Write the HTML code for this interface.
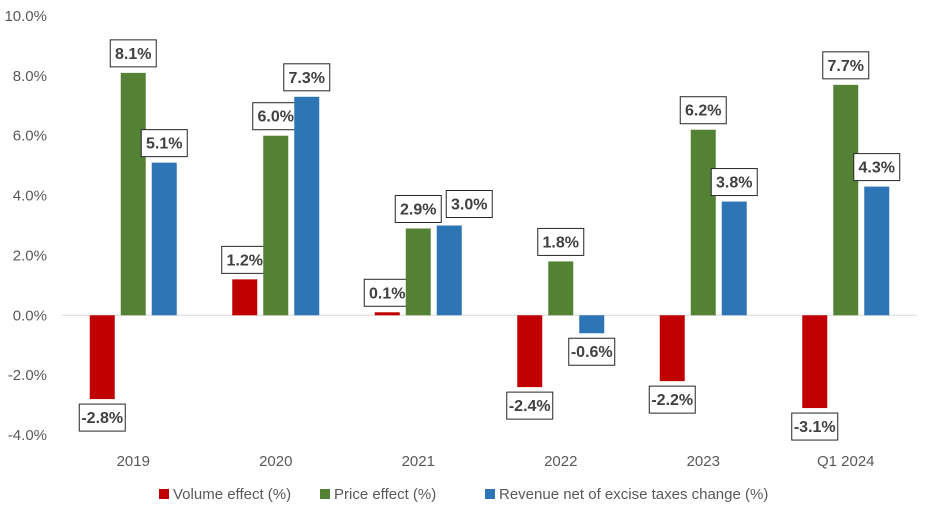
<!DOCTYPE html>
<html><head><meta charset="utf-8"><style>
body{margin:0;background:#fff;font-family:"Liberation Sans",sans-serif}
</style></head><body>
<svg id="chart" width="929" height="516" xmlns="http://www.w3.org/2000/svg"></svg>
<script>
const categories=["2019","2020","2021","2022","2023","Q1 2024"];
const volumeEffect=[-2.8,1.2,0.1,-2.4,-2.2,-3.1];
const priceEffect=[8.1,6.0,2.9,1.8,6.2,7.7];
const revenueChange=[5.1,7.3,3.0,-0.6,3.8,4.3];
const yTicks=[-4,-2,0,2,4,6,8,10];
const seriesNames=["Volume effect (%)","Price effect (%)","Revenue net of excise taxes change (%)"];
const colors=["#C00000","#548235","#2E75B6"];
const svg=document.getElementById('chart');
const NS="http://www.w3.org/2000/svg";
const x0=62,x1=917,yTop=16,yBot=435,vmin=-4,vmax=10;
const y=v=>yBot-(v-vmin)/(vmax-vmin)*(yBot-yTop);
const gw=(x1-x0)/categories.length;
const gx=i=>x0+gw*(i+0.5);
function mk(t,a,p){const e=document.createElementNS(NS,t);for(const k in a)e.setAttribute(k,a[k]);(p||svg).appendChild(e);return e;}
yTicks.forEach(t=>{
 const e=mk('text',{x:47,y:y(t)+5,'text-anchor':'end','font-size':15,fill:'#595959'});
 
 
 e.textContent=t.toFixed(1)+'%';
});
const zl=mk('line',{x1:x0,x2:x1,y1:y(0),y2:y(0),stroke:'#d9d9d9','stroke-width':1});


categories.forEach((c,i)=>{
 const e=mk('text',{x:gx(i),y:466,'text-anchor':'middle','font-size':15,fill:'#595959'});
 
 
 e.textContent=c;
});
const series=[volumeEffect,priceEffect,revenueChange];
const bw=25,step=31,lw=46,lh=27;
const placed=categories.map(()=>[]);
series.forEach((s,si)=>{
 s.forEach((v,i)=>{
  const cx=gx(i)+(si-1)*step;
  const top=Math.min(y(v),y(0)),h=Math.abs(y(v)-y(0));
  const r=mk('rect',{x:cx-bw/2,y:top,width:bw,height:Math.max(h,1.5),fill:colors[si]});
  
  
  const lab=v.toFixed(1)+'%';
  let lx=cx-lw/2;
  let ly=v>=0?y(v)-6-lh:y(v)+5;
  placed[i].forEach(p=>{
   if(lx<p.x+p.w+4&&lx+lw>p.x&&ly<p.y+lh&&ly+lh>p.y){lx=p.x+p.w+5;ly=Math.min(ly,p.y-5);}
  });
  placed[i].push({x:lx,y:ly,w:lw});
  const b=mk('rect',{x:lx,y:ly,width:lw,height:lh,fill:'#fff',stroke:'#262626','stroke-width':1});
  
  
  const t=mk('text',{x:lx+lw/2,y:ly+19,'text-anchor':'middle','font-size':16,'font-weight':'bold',fill:'#404040'});
  
  
  t.textContent=lab;
 });
});
const lgx=[159,320,485];
seriesNames.forEach((n,i)=>{
 const g=mk('g',{});
 
 
 mk('rect',{x:lgx[i],y:489,width:10,height:10,fill:colors[i]},g);
 const t=mk('text',{x:lgx[i]+14,y:499,'font-size':15,fill:'#595959'},g);
 t.textContent=n;
});
</script>
</body></html>
